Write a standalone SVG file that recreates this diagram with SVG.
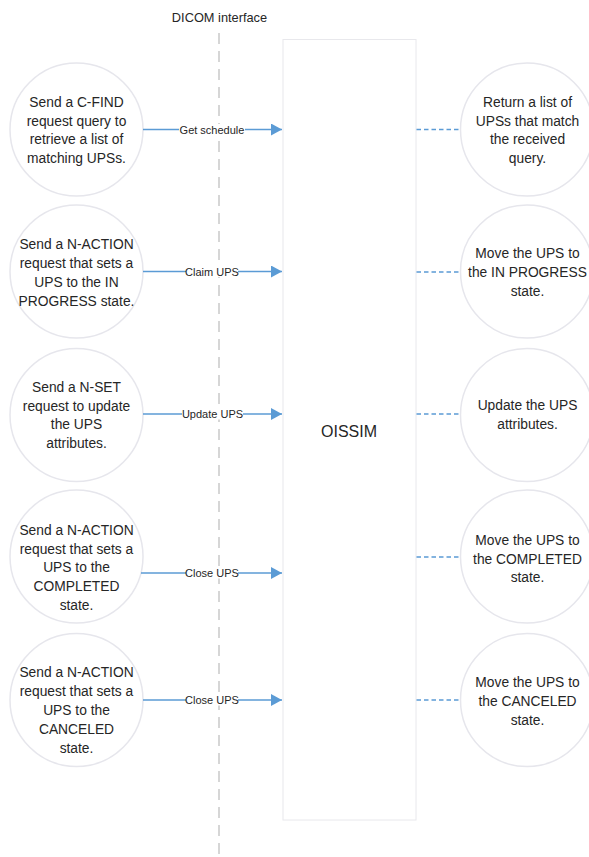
<svg xmlns="http://www.w3.org/2000/svg" width="589" height="857" viewBox="0 0 589 857">
<style>
.bg{fill:#fff}
.circ{fill:#fff;stroke:#e6e6ec;stroke-width:1.5}
.t{font-family:"Liberation Sans",Arial,sans-serif;font-size:13.8px;fill:#262626;text-anchor:middle}
.lbl{font-family:"Liberation Sans",Arial,sans-serif;font-size:11px;fill:#262626;text-anchor:middle}
.arrow{stroke:#5b9bd5;stroke-width:1.6;fill:none}
.dash{stroke:#5b9bd5;stroke-width:1.6;fill:none;stroke-dasharray:4.5 3}
.iface{stroke:#d6d6d6;stroke-width:2;stroke-dasharray:11 7;fill:none}
.lblbg{fill:#fff}
</style>
<defs>
<marker id="ah" markerUnits="userSpaceOnUse" markerWidth="12" markerHeight="12" refX="11" refY="6" orient="auto">
<path d="M0,0 L11,6 L0,12 Z" fill="#5b9bd5"/>
</marker>
</defs>
<rect class="bg" x="0" y="0" width="589" height="857"/>

<g id="interface">
<text x="219.5" y="22" style="font-family:'Liberation Sans',Arial,sans-serif;font-size:12.8px;fill:#262626;text-anchor:middle">DICOM interface</text>
<line class="iface" x1="219" y1="33" x2="219" y2="857"/>
</g>

<g id="oissim">
<rect x="283" y="39.5" width="133" height="780.5" fill="#fff" stroke="#e8e8ec" stroke-width="1"/>
<text x="349" y="437" style="font-family:'Liberation Sans',Arial,sans-serif;font-size:16px;fill:#262626;text-anchor:middle">OISSIM</text>
</g>

<g id="left1">
<circle class="circ" cx="76.5" cy="129.5" r="66.5"/>
<text class="t" x="76.5"><tspan x="76.5" y="107">Send a C-FIND</tspan><tspan x="76.5" y="125.5">request query to</tspan><tspan x="76.5" y="144">retrieve a list of</tspan><tspan x="76.5" y="162.5">matching UPSs.</tspan></text>
</g>
<g id="left2">
<circle class="circ" cx="76.5" cy="271.5" r="66.5"/>
<text class="t"><tspan x="76.5" y="249">Send a N-ACTION</tspan><tspan x="76.5" y="268">request that sets a</tspan><tspan x="76.5" y="287">UPS to the IN</tspan><tspan x="76.5" y="305.5">PROGRESS state.</tspan></text>
</g>
<g id="left3">
<circle class="circ" cx="76.5" cy="415" r="66.5"/>
<text class="t"><tspan x="76.5" y="392">Send a N-SET</tspan><tspan x="76.5" y="410.5">request to update</tspan><tspan x="76.5" y="429">the UPS</tspan><tspan x="76.5" y="448">attributes.</tspan></text>
</g>
<g id="left4">
<circle class="circ" cx="76.5" cy="556.5" r="66.5"/>
<text class="t"><tspan x="76.5" y="535">Send a N-ACTION</tspan><tspan x="76.5" y="553.5">request that sets a</tspan><tspan x="76.5" y="572">UPS to the</tspan><tspan x="76.5" y="591">COMPLETED</tspan><tspan x="76.5" y="610">state.</tspan></text>
</g>
<g id="left5">
<circle class="circ" cx="76.5" cy="700" r="66.5"/>
<text class="t"><tspan x="76.5" y="677">Send a N-ACTION</tspan><tspan x="76.5" y="696">request that sets a</tspan><tspan x="76.5" y="715">UPS to the</tspan><tspan x="76.5" y="734">CANCELED</tspan><tspan x="76.5" y="753">state.</tspan></text>
</g>

<g id="right1">
<circle class="circ" cx="527" cy="129.5" r="66.5"/>
<text class="t"><tspan x="527.5" y="107">Return a list of</tspan><tspan x="527.5" y="125.5">UPSs that match</tspan><tspan x="527.5" y="144">the received</tspan><tspan x="527.5" y="162.5">query.</tspan></text>
</g>
<g id="right2">
<circle class="circ" cx="527" cy="271.5" r="66.5"/>
<text class="t"><tspan x="527.5" y="258">Move the UPS to</tspan><tspan x="527.5" y="277">the IN PROGRESS</tspan><tspan x="527.5" y="296">state.</tspan></text>
</g>
<g id="right3">
<circle class="circ" cx="527" cy="415" r="66.5"/>
<text class="t"><tspan x="527.5" y="410">Update the UPS</tspan><tspan x="527.5" y="429">attributes.</tspan></text>
</g>
<g id="right4">
<circle class="circ" cx="527" cy="556.5" r="66.5"/>
<text class="t"><tspan x="527.5" y="545">Move the UPS to</tspan><tspan x="527.5" y="563.5">the COMPLETED</tspan><tspan x="527.5" y="582">state.</tspan></text>
</g>
<g id="right5">
<circle class="circ" cx="527" cy="700" r="66.5"/>
<text class="t"><tspan x="527.5" y="687">Move the UPS to</tspan><tspan x="527.5" y="706">the CANCELED</tspan><tspan x="527.5" y="724.5">state.</tspan></text>
</g>

<g id="connectors">
<line class="arrow" x1="143" y1="129.5" x2="282" y2="129.5" marker-end="url(#ah)"/>
<rect class="lblbg" x="179" y="124" width="66" height="11"/>
<text class="lbl" x="212" y="133.5">Get schedule</text>

<line class="arrow" x1="143" y1="271.5" x2="282" y2="271.5" marker-end="url(#ah)"/>
<rect class="lblbg" x="186" y="266" width="52" height="11"/>
<text class="lbl" x="212" y="275.5">Claim UPS</text>

<line class="arrow" x1="143" y1="414" x2="282" y2="414" marker-end="url(#ah)"/>
<rect class="lblbg" x="182" y="408.5" width="61" height="11"/>
<text class="lbl" x="212.5" y="418">Update UPS</text>

<line class="arrow" x1="141" y1="573" x2="282" y2="573" marker-end="url(#ah)"/>
<rect class="lblbg" x="186" y="567.5" width="52" height="11"/>
<text class="lbl" x="212" y="577">Close UPS</text>

<line class="arrow" x1="143" y1="700" x2="282" y2="700" marker-end="url(#ah)"/>
<rect class="lblbg" x="186" y="694.5" width="52" height="11"/>
<text class="lbl" x="212" y="704">Close UPS</text>

<line class="dash" x1="416.5" y1="129.5" x2="460.5" y2="129.5"/>
<line class="dash" x1="416.5" y1="272" x2="460.5" y2="272"/>
<line class="dash" x1="416.5" y1="414" x2="460.5" y2="414"/>
<line class="dash" x1="416.5" y1="557" x2="460.5" y2="557"/>
<line class="dash" x1="416.5" y1="700" x2="460.5" y2="700"/>
</g>
</svg>
